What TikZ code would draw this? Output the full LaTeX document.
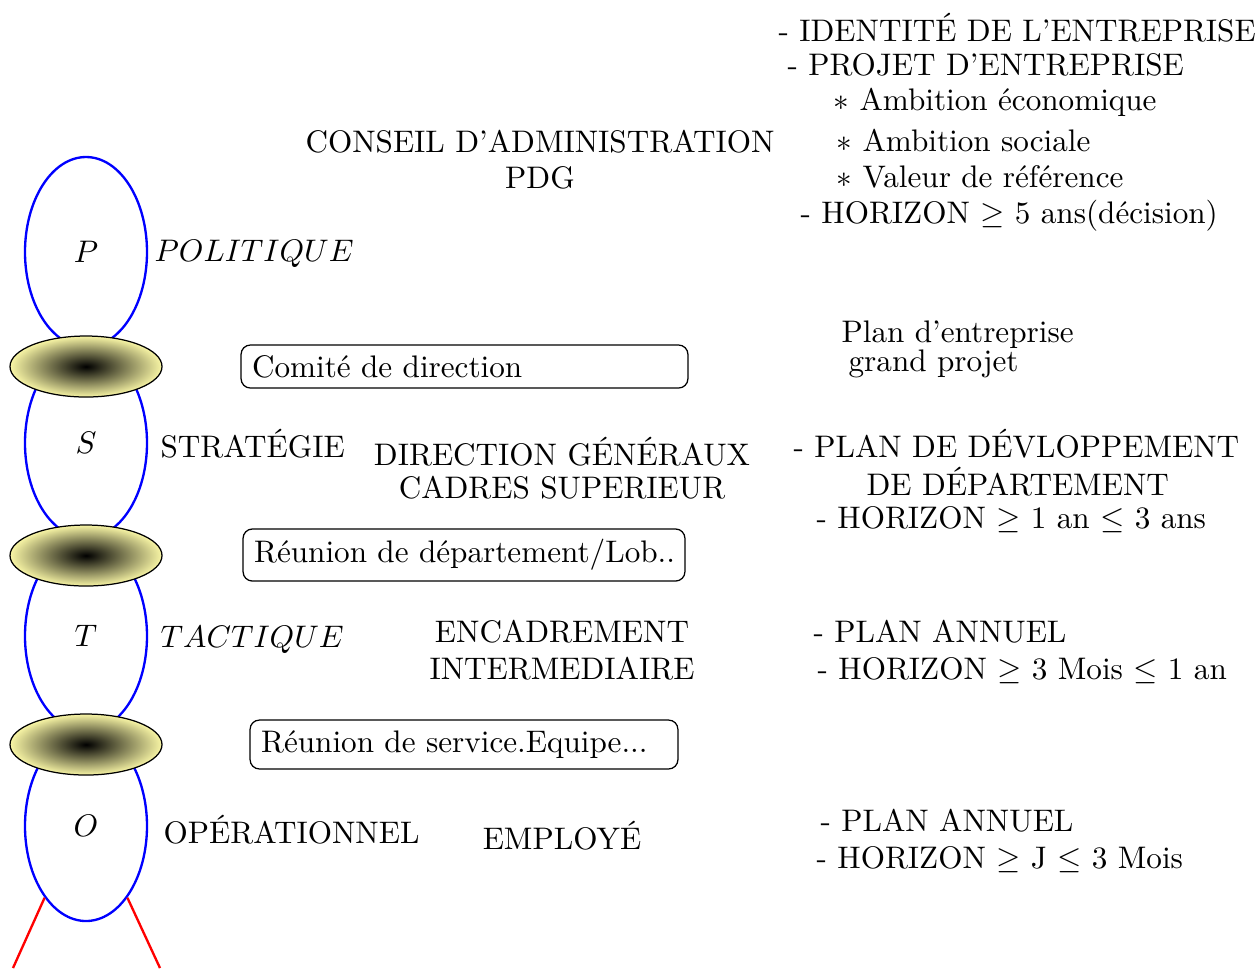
\documentclass[tikz,border=0pt]{standalone}
\usetikzlibrary{shapes.geometric}
\definecolor{jointyellow}{RGB}{248,245,165}
\newcommand\pxu{0.3208pt}
\begin{document}
\begin{tikzpicture}[x=0.3208pt,y=-0.3208pt,
  level/.style={ellipse, draw=blue, line width=0.75pt, minimum width=122*\pxu,
    minimum height=190*\pxu, inner sep=0pt},
  joint/.style={ellipse, draw=black, line width=0.4pt, inner color=black,
    outer color=jointyellow, minimum width=152*\pxu, minimum height=61*\pxu, inner sep=0pt},
  meeting/.style={draw=black, line width=0.4pt, rounded corners=3pt, align=left,
    inner xsep=3.53pt, inner ysep=0pt},
  txt/.style={inner sep=0pt, anchor=base},
  txtl/.style={inner sep=0pt, anchor=base west},
  leg/.style={red, line width=0.75pt}]
\useasboundingbox (0,0) rectangle (1257,968);

% the four management levels
\node[level] (P) at (86,252) {$P$};
\node[level] (S) at (86,443) {$S$};
\node[level] (T) at (86,636) {$T$};
\node[level] (O) at (86,826) {$O$};

% shaded joints between the levels
\node[joint] (j1) at (86,366.5) {};
\node[joint] (j2) at (86,555.5) {};
\node[joint] (j3) at (86,744.5) {};

% legs under the last level
\coordinate (legL) at (13,968);
\coordinate (legR) at (160,968);
\draw[leg] (O.240) -- (legL);
\draw[leg] (O.300) -- (legR);

% level names
\node[txtl] (pol) at (154,261) {$POLITIQUE$};
\node[txtl] (str) at (160,457) {STRATÉGIE};
\node[txtl] (tac) at (160,647) {$TACTIQUE$};
\node[txtl] (ope) at (163,843) {OPÉRATIONNEL};

% who decides
\node[txt] (ca)  at (540,152) {CONSEIL D’ADMINISTRATION};
\node[txt] (pdg) at (540,188) {PDG};
\node[txt] (dg)  at (562,465) {DIRECTION GÉNÉRAUX};
\node[txt] (cs)  at (562,498) {CADRES SUPERIEUR};
\node[txt] (enc) at (562,642) {ENCADREMENT};
\node[txt] (itm) at (562,679) {INTERMEDIAIRE};
\node[txt] (emp) at (562,849) {EMPLOYÉ};

% meetings
\node[meeting, text width=136.3pt, minimum height=13.8pt] (m1) at (464.5,366.5) {\mbox{Comité de direction}};
\node[meeting, text width=134.7pt, minimum height=16.7pt] (m2) at (464,555) {\mbox{Réunion de département/Lob..}};
\node[meeting, text width=130.2pt, minimum height=15.7pt] (m3) at (464,744.5) {\mbox{Réunion de service.Equipe...}};

% plans and horizons
\node[txtl] (r1) at (778,41)  {- IDENTITÉ DE L’ENTREPRISE};
\node[txtl] (r2) at (787,75)  {- PROJET D’ENTREPRISE};
\node[txtl] (r3) at (833,110) {$\ast$ Ambition économique};
\node[txtl] (r4) at (836,151) {$\ast$ Ambition sociale};
\node[txtl] (r5) at (836,187) {$\ast$ Valeur de référence};
\node[txtl] (r6) at (800,223) {- HORIZON $\geq$ 5 ans(décision)};

\node[txtl] (r7) at (841,342) {Plan d’entreprise};
\node[txtl] (r8) at (848,371) {grand projet};

\node[txtl] (r9)  at (793,457) {- PLAN DE DÉVLOPPEMENT};
\node[txtl] (r10) at (866,495) {DE DÉPARTEMENT};
\node[txtl] (r11) at (816,528) {- HORIZON $\geq$ 1 an $\leq$ 3 ans};

\node[txtl] (r12) at (813,642) {- PLAN ANNUEL};
\node[txtl] (r13) at (817,679) {- HORIZON $\geq$ 3 Mois $\leq$ 1 an};

\node[txtl] (r14) at (820,831) {- PLAN ANNUEL};
\node[txtl] (r15) at (816,868) {- HORIZON $\geq$ J $\leq$ 3 Mois};
\end{tikzpicture}
\end{document}
